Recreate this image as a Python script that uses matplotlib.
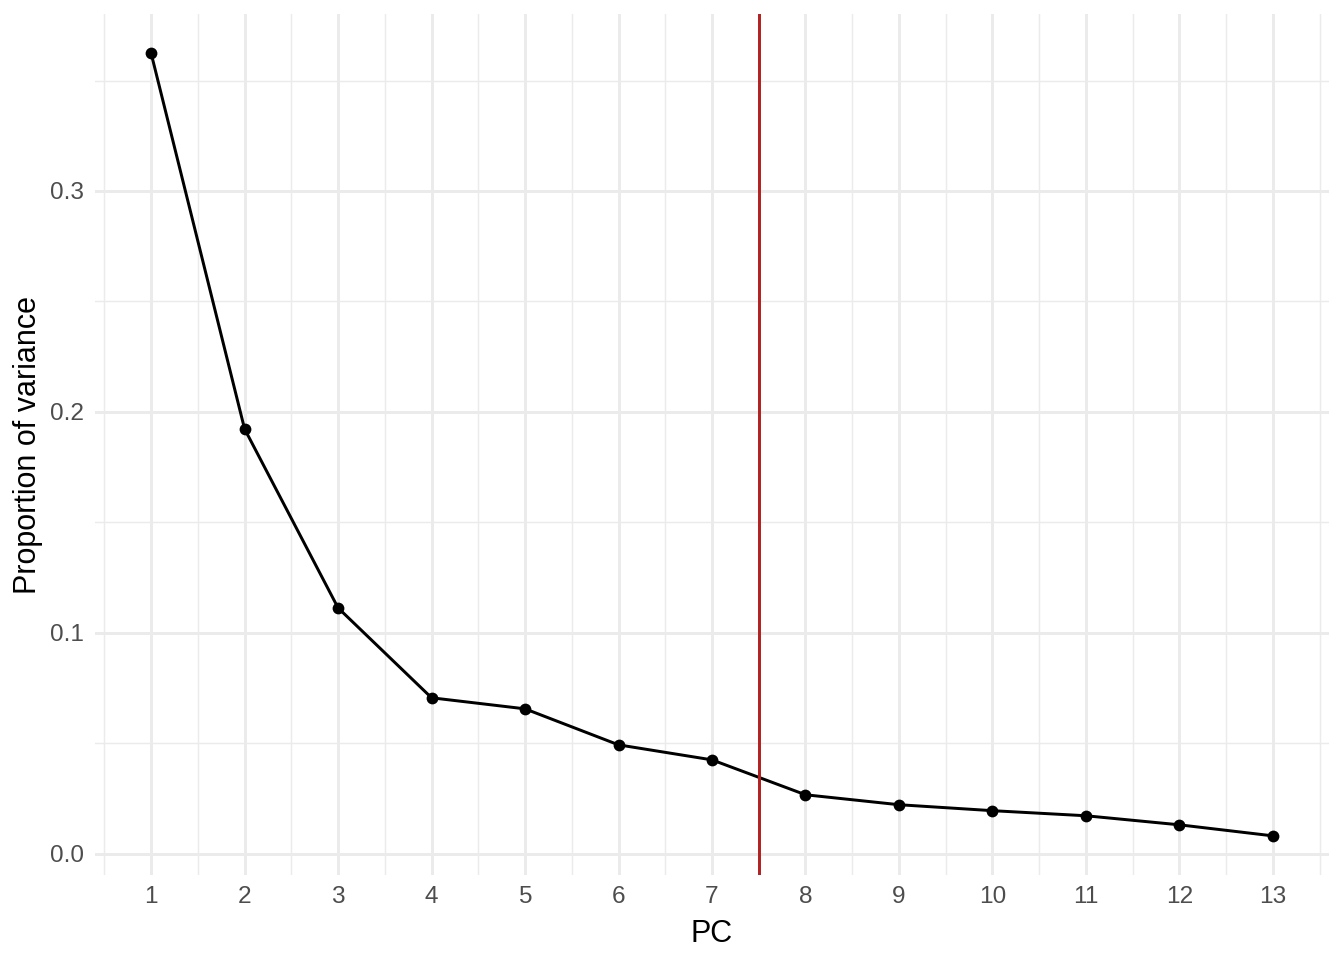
import matplotlib
matplotlib.use("Agg")
import matplotlib.pyplot as plt
import numpy as np

pc = [1, 2, 3, 4, 5, 6, 7, 8, 9, 10, 11, 12, 13]
prop_var = [0.3624, 0.1923, 0.1113, 0.0706, 0.0656, 0.0493, 0.0425,
            0.0267, 0.0222, 0.0195, 0.0172, 0.0131, 0.0081]
cutoff = 7.5

plt.rcParams['font.family'] = ['Liberation Sans', 'DejaVu Sans']

fig = plt.figure(figsize=(6.72, 4.8), dpi=200)
ax = fig.add_axes([95 / 1344, 85 / 960, 1234 / 1344, 861 / 960])

grid_col = "#EBEBEB"
ax.set_xticks(pc)
ax.set_xticks(np.arange(0.5, 14, 1), minor=True)
ax.set_yticks([0, 0.1, 0.2, 0.3])
ax.set_yticks([0.05, 0.15, 0.25, 0.35], minor=True)
ax.grid(which="major", color=grid_col, linewidth=1.07)
ax.grid(which="minor", color=grid_col, linewidth=0.53)
ax.set_axisbelow(True)

ax.plot(pc, prop_var, color="black", linewidth=1.07, zorder=3)
ax.scatter(pc, prop_var, color="black", s=18, zorder=4, linewidths=0)
ax.axvline(cutoff, color="#B22222", linewidth=1.07, zorder=5)

span = max(prop_var) - min(prop_var)
ax.set_xlim(0.4, 13.6)
ax.set_ylim(min(prop_var) - 0.05 * span, max(prop_var) + 0.05 * span)

for s in ax.spines.values():
    s.set_visible(False)
ax.tick_params(which="both", length=0)
ax.tick_params(axis="both", labelsize=8.8, labelcolor="#4D4D4D", pad=4)
ax.set_yticklabels(["0.0", "0.1", "0.2", "0.3"])

ax.set_xlabel("PC", fontsize=11, labelpad=4)
ax.set_ylabel("Proportion of variance", fontsize=11, labelpad=2.5)

fig.savefig("out.png", dpi=200)
